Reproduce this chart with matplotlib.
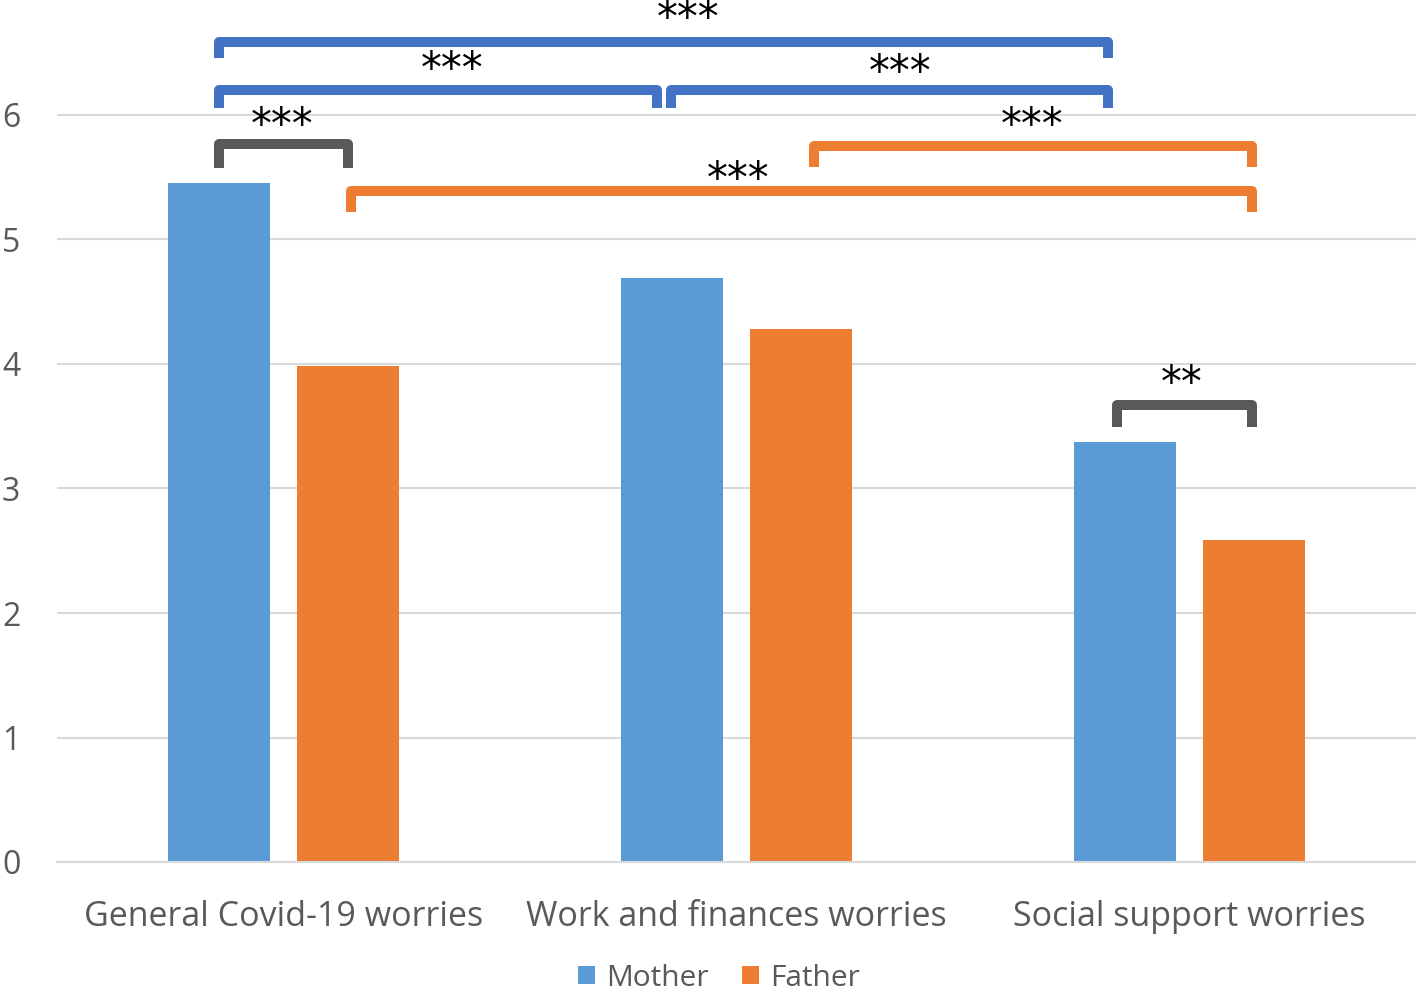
import numpy as np
import matplotlib
matplotlib.use("Agg")
import matplotlib.pyplot as plt

categories = ["General Covid-19 worries", "Work and finances worries", "Social support worries"]
series = ["Mother", "Father"]
mother = [5.45, 4.69, 3.37]
father = [3.98, 4.28, 2.59]

# significance brackets: (group a, series a, group b, series b, label)
comparisons = [
    (0, 0, 2, 0, "***"),
    (0, 0, 1, 0, "***"),
    (1, 0, 2, 0, "***"),
    (0, 0, 0, 1, "***"),
    (1, 1, 2, 1, "***"),
    (0, 1, 2, 1, "***"),
    (2, 0, 2, 1, "**"),
]

plt.rcParams['font.family'] = ['Open Sans', 'DejaVu Sans']
TXT = '#595959'
BLUE = '#5B9BD5'
ORANGE = '#ED7D31'
DARKBLUE = '#4472C4'
GREY = '#595959'

fig = plt.figure(figsize=(14.16, 9.91), dpi=100)
ax = fig.add_axes([57 / 1416, 129 / 991, 1 - 57 / 1416, 1 - 129 / 991])

x = np.arange(len(categories))
off = 0.1425
w = 0.225
ax.bar(x - off, mother, w, color=BLUE, label=series[0], zorder=2)
ax.bar(x + off, father, w, color=ORANGE, label=series[1], zorder=2)

ax.set_xlim(-0.5, 2.5)
ax.set_ylim(0, 862 / 124.5)
ax.set_yticks(range(0, 7))
ax.yaxis.grid(True, color='#D9D9D9', linewidth=1.5, zorder=0)
ax.set_axisbelow(True)
for s in ['top', 'right', 'left']:
    ax.spines[s].set_visible(False)
ax.spines['bottom'].set_color('#D9D9D9')
ax.spines['bottom'].set_linewidth(1.5)
ax.set_xticks(x, categories)
ax.tick_params(axis='both', length=0, colors=TXT)
ax.tick_params(axis='x', labelsize=24.5, pad=27)
ax.tick_params(axis='y', labelsize=23, pad=0)
for t in ax.get_yticklabels():
    t.set_horizontalalignment('left')
    t.set_transform(ax.get_yaxis_transform())
    t.set_position((-0.0405, 0))


def center(g, s):
    return g + (off if s == 1 else -off)


# bracket layout: (level y, leg length, colour, text x, text y, shift a, shift b)
styles = [
    (6.586, 0.129, DARKBLUE, 0.894, 6.843, 0.0, -0.038),
    (6.201, 0.145, DARKBLUE, 0.371, 6.434, 0.0, -0.033),
    (6.201, 0.145, DARKBLUE, 1.362, 6.402, -0.003, -0.038),
    (5.767, 0.193, GREY, -0.004, 5.984, 0.0, 0.0),
    (5.751, 0.169, ORANGE, 1.653, 5.984, 0.028, -0.004),
    (5.390, 0.169, ORANGE, 1.004, 5.550, 0.006, -0.004),
    (3.671, 0.177, GREY, 1.982, 3.904, -0.018, -0.004),
]

for (ga, sa, gb, sb, lab), (yl, leg, col, tx, ty, da, db) in zip(comparisons, styles):
    xa = center(ga, sa) + da
    xb = center(gb, sb) + db
    ax.plot([xa, xa, xb, xb], [yl - leg, yl, yl, yl - leg], color=col, lw=7.2,
            solid_joinstyle='round', solid_capstyle='butt', zorder=3, clip_on=False)
    ax.text(tx, ty - 0.165, lab, ha='center', va='baseline', fontsize=30, color='black',
            family='DejaVu Sans', zorder=4)

fig.legend(loc='center', bbox_to_anchor=(719 / 1416, 1 - 978 / 991), ncol=2, frameon=False,
           fontsize=21.5, labelcolor=TXT, handlelength=0.58, handleheight=0.58,
           handletextpad=0.38, columnspacing=1.1, borderpad=0)

fig.savefig('out.png', dpi=100)
